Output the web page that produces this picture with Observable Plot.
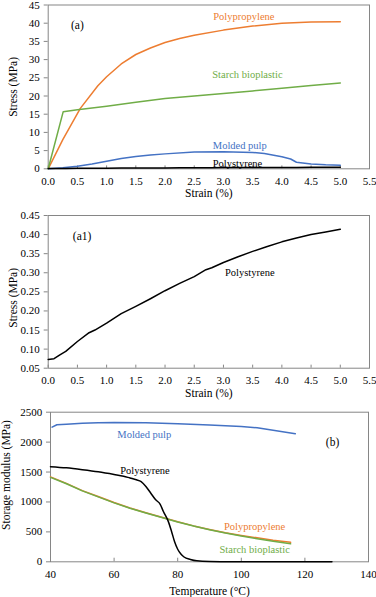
<!DOCTYPE html>
<html>
<head>
<meta charset="utf-8">
<script src="https://cdn.jsdelivr.net/npm/d3@7"></script>
<script src="https://cdn.jsdelivr.net/npm/@observablehq/plot@0.6"></script>
<style>
  html, body { margin: 0; padding: 0; background: #fff; }
  #wrap { width: 376px; height: 597px; overflow: hidden; font-family: "Liberation Serif", serif; }
  #wrap svg { display: block; }
  #wrap svg, #wrap svg text { font-family: "Liberation Serif", "Times New Roman", serif !important; }
</style>
</head>
<body>
<div id="wrap"></div>
<script>
// ---------- Tick values ----------
const strainTicks = [0, 0.5, 1, 1.5, 2, 2.5, 3, 3.5, 4, 4.5, 5, 5.5];
const stressTicksA = [0, 5, 10, 15, 20, 25, 30, 35, 40, 45];
const stressTicksA1 = [0.05, 0.10, 0.15, 0.20, 0.25, 0.30, 0.35, 0.40, 0.45];
const tempTicks = [40, 60, 80, 100, 120, 140];
const modulusTicks = [0, 500, 1000, 1500, 2000, 2500];

// ---------- Panel (a): stress-strain ----------
const ppStrain = [0, 0.25, 0.55, 0.85, 1.0, 1.25, 1.5, 1.75, 2.0, 2.25, 2.5, 3.0, 3.5, 4.0, 4.5, 5.0];
const ppStress = [0, 8.0, 16.6, 22.8, 25.3, 28.8, 31.4, 33.2, 34.7, 35.8, 36.7, 38.1, 39.2, 40.0, 40.3, 40.4];

const sbStrain = [0, 0.257, 0.5, 1.0, 1.5, 2.0, 2.5, 3.0, 3.5, 4.0, 4.5, 5.0];
const sbStress = [0, 15.7, 16.2, 17.2, 18.3, 19.3, 20.0, 20.7, 21.4, 22.1, 22.9, 23.6];

const mpStrain = [0, 0.25, 0.5, 0.75, 1.0, 1.25, 1.5, 1.75, 2.0, 2.5, 3.0, 3.5, 3.7, 4.0, 4.15, 4.25, 4.5, 4.75, 5.0];
const mpStress = [0, 0.3, 0.7, 1.3, 2.1, 2.8, 3.4, 3.8, 4.1, 4.6, 4.7, 4.5, 4.2, 3.3, 2.7, 1.8, 1.3, 1.1, 1.0];

const psStrain = [0, 0.1, 0.2, 0.3, 0.5, 0.7, 0.8, 1.0, 1.25, 1.5, 1.75, 2.0, 2.25, 2.5, 2.7, 2.8, 3.0, 3.25, 3.5, 3.75, 4.0, 4.25, 4.5, 4.75, 5.0];
const psStress = [0.073, 0.075, 0.085, 0.094, 0.120, 0.143, 0.150, 0.168, 0.193, 0.212, 0.232, 0.253, 0.272, 0.290, 0.308, 0.313, 0.327, 0.342, 0.356, 0.369, 0.381, 0.391, 0.400, 0.407, 0.414];

// ---------- Panel (b): storage modulus vs temperature ----------
const mpTemp = [40.5, 42, 45, 50, 55, 60, 70, 80, 90, 100, 105, 110, 117];
const mpMod  = [2250, 2290, 2300, 2316, 2322, 2327, 2322, 2305, 2285, 2260, 2240, 2200, 2140];

const psTemp = [40, 45, 50, 55, 60, 63, 65, 67, 68.5, 70, 71.5, 73, 74.5, 75.5, 77, 78, 79, 80, 81, 82, 84, 86, 90, 95, 110, 128.5];
const psMod  = [1590, 1570, 1540, 1505, 1460, 1430, 1400, 1370, 1340, 1260, 1150, 1040, 960, 840, 680, 520, 340, 210, 130, 80, 40, 17, 5, 2, 0, 0];

const ppTemp = [40, 45, 50, 55, 60, 65, 70, 75, 80, 85, 90, 95, 100, 105, 110, 115.5];
const ppMod  = [1420, 1310, 1190, 1090, 990, 900, 820, 745, 670, 600, 540, 485, 440, 400, 360, 325];

const sbTemp = [40, 45, 50, 55, 60, 65, 70, 75, 80, 85, 90, 95, 100, 105, 110, 115.5];
const sbMod  = [1410, 1305, 1185, 1085, 985, 895, 815, 740, 665, 597, 537, 480, 430, 385, 345, 300];

// ---------- Colours ----------
const C_PP = "#ED7D31", C_SB = "#70AD47", C_MP = "#4472C4", C_PS = "#000000";
const GRID = "#868686";

const zip = (xs, ys) => xs.map((x, i) => ({x, y: ys[i]}));
const fmt1 = d3.format(".1f"), fmt2 = d3.format(".2f");

const FONT = '"Liberation Serif", "Times New Roman", serif';
const baseStyle = {fontFamily: FONT, fontSize: "11px", color: "#000", background: "#fff", overflow: "visible"};

function yTitle(label, dx, dy) {
  return Plot.text([label], {frameAnchor: "left", rotate: -90, dx, dy, textAnchor: "middle", lineAnchor: "middle", fontSize: 11.5, fill: "#000"});
}
function xTitle(label, dy) {
  return Plot.text([label], {frameAnchor: "bottom", dy, textAnchor: "middle", lineAnchor: "middle", fontSize: 11.5, fill: "#000"});
}

// ---------- Panel (a) ----------
const plotA = Plot.plot({
  width: 376, height: 200,
  marginLeft: 47.7, marginRight: 7, marginTop: 4.5, marginBottom: 31.7,
  style: baseStyle,
  x: {domain: [0, 5.5]},
  y: {domain: [0, 45]},
  marks: [
    Plot.frame({stroke: GRID}),
    Plot.axisY(stressTicksA, {tickSize: 4, tickPadding: 4.5, stroke: GRID, fill: "#000", label: null, fontSize: 11, tickFormat: d => String(d)}),
    Plot.axisX(strainTicks, {tickSize: 0, tickPadding: 8, fill: "#000", label: null, fontSize: 11, tickFormat: fmt1}),
    Plot.ruleX(strainTicks, {x: d => d, y1: 0, y2: 0.8, stroke: GRID}),
    Plot.line(zip(ppStrain, ppStress), {x: "x", y: "y", stroke: C_PP, strokeWidth: 1.5}),
    Plot.line(zip(sbStrain, sbStress), {x: "x", y: "y", stroke: C_SB, strokeWidth: 1.5}),
    Plot.line(zip(mpStrain, mpStress), {x: "x", y: "y", stroke: C_MP, strokeWidth: 1.5}),
    Plot.line(zip(psStrain, psStress), {x: "x", y: "y", stroke: C_PS, strokeWidth: 1.5}),
    Plot.text(["(a)"], {x: 0.5, y: 39.5, fontSize: 11.5, fill: "#000"}),
    Plot.text(["Polypropylene"], {x: 3.35, y: 41.8, fontSize: 10.5, fill: C_PP}),
    Plot.text(["Starch bioplastic"], {x: 3.41, y: 26.0, fontSize: 10.5, fill: C_SB}),
    Plot.text(["Molded pulp"], {x: 3.28, y: 6.4, fontSize: 10.5, fill: C_MP}),
    Plot.text(["Polystyrene"], {x: 3.24, y: 1.5, fontSize: 10.5, fill: "#000"}),
    yTitle("Stress (MPa)", -34.7, 0),
    xTitle("Strain (%)", 24.7)
  ]
});

// ---------- Panel (a1) ----------
const plotA1 = Plot.plot({
  width: 376, height: 200,
  marginLeft: 47.7, marginRight: 7, marginTop: 15, marginBottom: 32.3,
  style: baseStyle,
  x: {domain: [0, 5.5]},
  y: {domain: [0.05, 0.45]},
  marks: [
    Plot.frame({stroke: GRID}),
    Plot.axisY(stressTicksA1, {tickSize: 4, tickPadding: 4.5, stroke: GRID, fill: "#000", label: null, fontSize: 11, tickFormat: fmt2}),
    Plot.axisX(strainTicks, {tickSize: 0, tickPadding: 8, fill: "#000", label: null, fontSize: 11, tickFormat: fmt1}),
    Plot.ruleX(strainTicks, {x: d => d, y1: 0.05, y2: 0.058, stroke: GRID}),
    Plot.line(zip(psStrain, psStress), {x: "x", y: "y", stroke: C_PS, strokeWidth: 1.5}),
    Plot.text(["(a1)"], {x: 0.58, y: 0.395, fontSize: 11.5, fill: "#000"}),
    Plot.text(["Polystyrene"], {x: 3.45, y: 0.30, fontSize: 10.5, fill: "#000"}),
    yTitle("Stress (MPa)", -34.7, 6),
    xTitle("Strain (%)", 25)
  ]
});

// ---------- Panel (b) ----------
const plotB = Plot.plot({
  width: 376, height: 197,
  marginLeft: 50, marginRight: 8, marginTop: 11.7, marginBottom: 35.7,
  style: baseStyle,
  x: {domain: [40, 140]},
  y: {domain: [0, 2500]},
  marks: [
    Plot.frame({stroke: GRID}),
    Plot.axisY(modulusTicks, {tickSize: 4, tickPadding: 4.3, stroke: GRID, fill: "#000", label: null, fontSize: 11, tickFormat: d => String(d)}),
    Plot.axisX(tempTicks, {tickSize: 0, tickPadding: 8, fill: "#000", label: null, fontSize: 11, tickFormat: d => String(d)}),
    Plot.ruleX(tempTicks, {x: d => d, y1: 0, y2: 60, stroke: GRID}),
    Plot.line(zip(mpTemp, mpMod), {x: "x", y: "y", stroke: C_MP, strokeWidth: 1.5}),
    Plot.line(zip(ppTemp, ppMod), {x: "x", y: "y", stroke: C_PP, strokeWidth: 1.5}),
    Plot.line(zip(sbTemp, sbMod), {x: "x", y: "y", stroke: C_SB, strokeWidth: 1.5}),
    Plot.line(zip(psTemp, psMod), {x: "x", y: "y", stroke: C_PS, strokeWidth: 1.5, curve: "monotone-x"}),
    Plot.text(["Molded pulp"], {x: 69.5, y: 2127, fontSize: 10.5, fill: C_MP}),
    Plot.text(["(b)"], {x: 128.7, y: 2000, fontSize: 11.5, fill: "#000"}),
    Plot.text(["Polystyrene"], {x: 69.7, y: 1526, fontSize: 10.5, fill: "#000"}),
    Plot.text(["Polypropylene"], {x: 104.2, y: 590, fontSize: 10.5, fill: C_PP}),
    Plot.text(["Starch bioplastic"], {x: 104.2, y: 200, fontSize: 10.5, fill: C_SB}),
    yTitle("Storage modulus (MPa)", -44, -12),
    xTitle("Temperature (°C)", 30)
  ]
});

const wrap = document.getElementById("wrap");
wrap.appendChild(plotA);
wrap.appendChild(plotA1);
wrap.appendChild(plotB);
</script>
</body>
</html>
